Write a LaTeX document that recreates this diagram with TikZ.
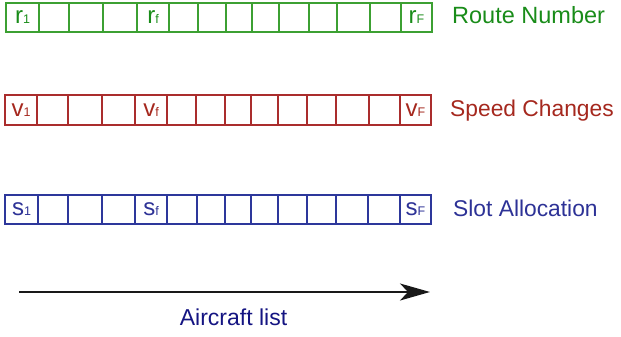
\documentclass[tikz,border=0pt]{standalone}
\usepackage{fontspec}
\setmainfont{Liberation Sans}
\usetikzlibrary{arrows.meta}
\definecolor{gline}{RGB}{60,160,50}
\definecolor{gtext}{RGB}{25,140,25}
\definecolor{rline}{RGB}{170,45,45}
\definecolor{rtext}{RGB}{165,40,30}
\definecolor{bline}{RGB}{45,55,155}
\definecolor{btext}{RGB}{45,50,150}
\definecolor{atext}{RGB}{20,20,130}
\newcommand{\cellsym}[2]{\fontsize{24}{24}\selectfont #1\fontsize{12.5}{12.5}\selectfont #2}
\tikzset{
  cellbox/.style={draw, line width=2pt, inner sep=0pt, outer sep=0pt, rectangle},
  rowlabel/.style={anchor=base west, inner sep=0pt},
}
\begin{document}
\begin{tikzpicture}[x=1pt,y=-1pt]
\useasboundingbox (0,0) rectangle (621,337);
% Row 1
\foreach \a/\b [count=\i] in {6/39,39/69,69/103,103/137,137/169,169/198,198/226,226/252,252/279,279/309,309/337,337/370,370/401,401/432}
  \node[cellbox, draw=gline, minimum width={(\b-\a)*1pt}, minimum height=29pt] (ra\i) at ({(\a+\b)/2},17.5) {};
\node[text=gtext, inner sep=0pt] (ta1) at (ra1) {\cellsym{r}{1}};
\node[text=gtext, inner sep=0pt] (ta5) at (ra5) {\cellsym{r}{f}};
\node[text=gtext, inner sep=0pt] (ta14) at (ra14) {\cellsym{r}{F}};
\node[rowlabel, text=gtext, font=\fontsize{23.5}{23.5}\selectfont] (la) at (452,24) {Route Number};
% Row 2
\foreach \a/\b [count=\i] in {5/37,37/68,68/102,102/135,135/167,167/196,196/225,225/251,251/278,278/307,307/336,336/369,369/400,400/431}
  \node[cellbox, draw=rline, minimum width={(\b-\a)*1pt}, minimum height=30pt] (rb\i) at ({(\a+\b)/2},110) {};
\node[text=rtext, inner sep=0pt] (tb1) at (rb1) {\cellsym{v}{1}};
\node[text=rtext, inner sep=0pt] (tb5) at (rb5) {\cellsym{v}{f}};
\node[text=rtext, inner sep=0pt] (tb14) at (rb14) {\cellsym{v}{F}};
\node[rowlabel, text=rtext, font=\fontsize{22.8}{22.8}\selectfont] (lb) at (450,116) {Speed Changes};
% Row 3
\foreach \a/\b [count=\i] in {5/38,38/68,68/102,102/135,135/167,167/197,197/225,225/251,251/278,278/307,307/336,336/368,368/400,400/431}
  \node[cellbox, draw=bline, minimum width={(\b-\a)*1pt}, minimum height=29pt] (rc\i) at ({(\a+\b)/2},209.5) {};
\node[text=btext, inner sep=0pt] (tc1) at (rc1) {\cellsym{s}{1}};
\node[text=btext, inner sep=0pt] (tc5) at (rc5) {\cellsym{s}{f}};
\node[text=btext, inner sep=0pt] (tc14) at (rc14) {\cellsym{s}{F}};
\node[rowlabel, text=btext, font=\fontsize{22.8}{22.8}\selectfont] (lc) at (453,216) {Slot Allocation};
% Arrow
\coordinate (as) at (19,292);
\coordinate (ae) at (430,292);
\draw[line width=1.5pt, color=black!90, -{Stealth[length=30pt,width=17pt,inset=8pt]}] (as) -- (ae);
\node[anchor=base, inner sep=0pt, text=atext, font=\fontsize{23}{23}\selectfont] (al) at (233.5,325) {Aircraft list};
\end{tikzpicture}
\end{document}
